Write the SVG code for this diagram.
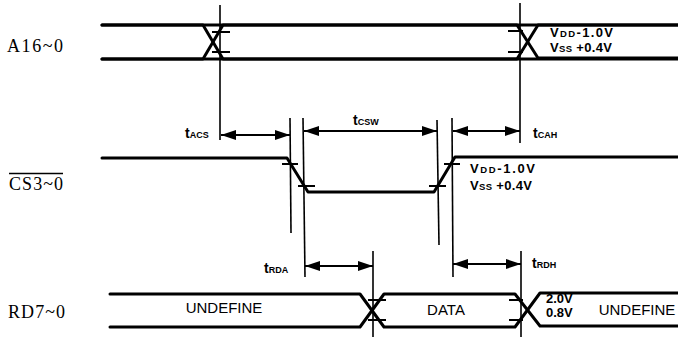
<svg xmlns="http://www.w3.org/2000/svg" width="678" height="341" viewBox="0 0 678 341">
<style>
.sig{fill:none;stroke:#000;stroke-width:3;stroke-linejoin:round;stroke-linecap:round}
.tk{fill:none;stroke:#000;stroke-width:2}
.vl{fill:none;stroke:#000;stroke-width:1.6}
.ar{fill:none;stroke:#000;stroke-width:2;marker-start:url(#ah);marker-end:url(#ah)}
.lbl{font-family:"Liberation Serif","Times New Roman",serif;font-size:18px;fill:#000}
.t{font-family:"Liberation Sans",Arial,sans-serif;font-size:14px;font-weight:bold;fill:#000}
.s{font-family:"Liberation Sans",Arial,sans-serif;font-size:9px;font-weight:bold;fill:#000}
.v{font-family:"Liberation Sans",Arial,sans-serif;font-size:13px;font-weight:bold;fill:#000}
.vs{font-family:"Liberation Sans",Arial,sans-serif;font-size:9.5px;font-weight:bold;fill:#000}
.d{font-family:"Liberation Sans",Arial,sans-serif;font-size:15px;fill:#000}
</style>
<defs>
<marker id="ah" markerUnits="userSpaceOnUse" markerWidth="15" markerHeight="10" refX="15" refY="5" orient="auto-start-reverse" viewBox="0 0 15 10">
<path d="M0,0 L15,5 L0,10 Z" fill="#000"/>
</marker>
</defs>

<g id="A16">
<text class="lbl" x="7" y="52" textLength="56">A16~0</text>
<path class="sig" d="M102,25 H203 L223,59 H678"/>
<path class="sig" d="M102,59 H203 L223,25 H678"/>
<path class="sig" d="M102,25 H517 L538,58 H678"/>
<path class="sig" d="M102,59 H517 L538,25 H678"/>
<path class="tk" d="M212,32 H230 M212,52 H230 M508,31 H523 M508,52 H523"/>
<text class="v" x="550" y="37" textLength="63">V<tspan class="vs">DD</tspan>-1.0V</text>
<text class="v" x="550" y="52" textLength="62">V<tspan class="vs">SS</tspan> +0.4V</text>
</g>

<g id="CS">
<text class="lbl" x="9" y="190" textLength="54">CS3~0</text>
<line x1="9" y1="173.5" x2="63" y2="173.5" stroke="#000" stroke-width="1.3"/>
<path class="sig" d="M102,158 H287 L308,192 H434 L455,157 H678"/>
<path class="tk" d="M282,164 H298 M298,186 H315 M429,186 H446 M444,164 H460"/>
<text class="v" x="470" y="173" textLength="65">V<tspan class="vs">DD</tspan>-1.0V</text>
<text class="v" x="470" y="190" textLength="62">V<tspan class="vs">SS</tspan> +0.4V</text>
</g>

<g id="RD">
<text class="lbl" x="8" y="318" textLength="57">RD7~0</text>
<path class="sig" d="M110,294 H360 L384,327 H515 L540,293 H678"/>
<path class="sig" d="M110,327 H360 L384,294 H515 L540,326 H678"/>
<path class="tk" d="M368,300 H386 M368,320 H386 M509,300 H523 M509,320 H523"/>
<text class="d" x="224" y="313" text-anchor="middle">UNDEFINE</text>
<text class="d" x="446" y="315" text-anchor="middle">DATA</text>
<text class="d" x="637" y="315" text-anchor="middle">UNDEFINE</text>
<text class="v" x="546" y="303" font-size="12">2.0V</text>
<text class="v" x="546" y="317" font-size="12">0.8V</text>
</g>

<g id="connectors">
<line class="vl" x1="220" y1="5" x2="220" y2="140"/>
<line class="vl" x1="520" y1="3" x2="520" y2="143"/>
<line class="vl" x1="290" y1="118" x2="291" y2="233"/>
<line class="vl" x1="303" y1="118" x2="305" y2="277"/>
<line class="vl" x1="437" y1="120" x2="439" y2="245"/>
<line class="vl" x1="452" y1="118" x2="453" y2="277"/>
<line class="vl" x1="373" y1="251" x2="373" y2="337"/>
<line class="vl" x1="521" y1="251" x2="521" y2="337"/>
<line class="ar" x1="221" y1="135" x2="290" y2="135"/>
<line class="ar" x1="304" y1="131" x2="437" y2="131"/>
<line class="ar" x1="453" y1="131" x2="520" y2="131"/>
<line class="ar" x1="305" y1="266" x2="373" y2="266"/>
<line class="ar" x1="453" y1="264" x2="521" y2="264"/>
<text class="t" x="185" y="138">t<tspan class="s">ACS</tspan></text>
<text class="t" x="353" y="125">t<tspan class="s">CSW</tspan></text>
<text class="t" x="533" y="138">t<tspan class="s">CAH</tspan></text>
<text class="t" x="264" y="273">t<tspan class="s">RDA</tspan></text>
<text class="t" x="532" y="268">t<tspan class="s">RDH</tspan></text>
</g>
</svg>
